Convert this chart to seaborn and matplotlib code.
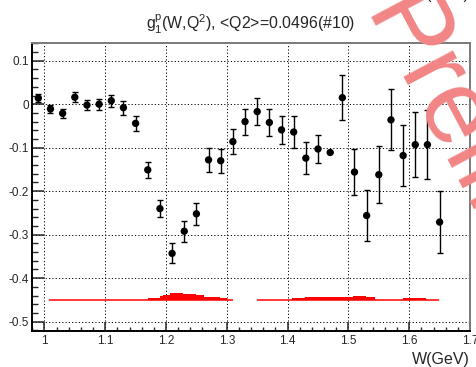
import numpy as np
import pandas as pd
import matplotlib
matplotlib.use("Agg")
import matplotlib.pyplot as plt
from matplotlib.ticker import MultipleLocator, FixedLocator
import seaborn as sns

# ---------------- data ----------------
W = [0.99, 1.01, 1.03, 1.05, 1.07, 1.09, 1.11, 1.13, 1.15, 1.17,
     1.19, 1.21, 1.23, 1.25, 1.27, 1.29, 1.31, 1.33, 1.35, 1.37,
     1.39, 1.41, 1.43, 1.45, 1.47, 1.49, 1.51, 1.53, 1.55, 1.57,
     1.59, 1.61, 1.63, 1.65]
g1 = [0.014, -0.011, -0.021, 0.016, -0.002, 0.000, 0.008, -0.008, -0.044, -0.151,
      -0.240, -0.343, -0.292, -0.252, -0.128, -0.130, -0.086, -0.040, -0.017, -0.042,
      -0.059, -0.064, -0.124, -0.103, -0.111, 0.015, -0.156, -0.256, -0.162, -0.036,
      -0.118, -0.093, -0.093, -0.271]
g1_err = [0.010, 0.010, 0.010, 0.012, 0.012, 0.013, 0.014, 0.016, 0.017, 0.019,
          0.020, 0.023, 0.024, 0.025, 0.027, 0.028, 0.029, 0.030, 0.031, 0.032,
          0.033, 0.036, 0.037, 0.033, 0.000, 0.051, 0.053, 0.059, 0.065, 0.070,
          0.070, 0.075, 0.080, 0.072]

# systematic band (drawn as a step histogram above a baseline)
sys_base = -0.45
sys1_edges = [1.008, 1.17, 1.19, 1.195, 1.206, 1.228, 1.25, 1.263, 1.288, 1.30, 1.31]
sys1_top = [-0.45, -0.446, -0.442, -0.438, -0.434, -0.437, -0.439, -0.443, -0.445, -0.45]
sys2_edges = [1.349, 1.408, 1.428, 1.507, 1.529, 1.543, 1.59, 1.628, 1.649]
sys2_top = [-0.45, -0.446, -0.443, -0.440, -0.443, -0.45, -0.445, -0.45]

title_txt = r"$g_1^p$(W,Q$^2$), <Q2>=0.0496(#10)"
xlabel_txt = "W(GeV)"
y_ticks = [0.1, 0.0, -0.1, -0.2, -0.3, -0.4, -0.5]
y_ticklabels = ["0.1", "0", "-0.1", "-0.2", "-0.3", "-0.4", "-0.5"]
x_ticks = [1.0, 1.1, 1.2, 1.3, 1.4, 1.5, 1.6, 1.7]
x_ticklabels = ["1", "1.1", "1.2", "1.3", "1.4", "1.5", "1.6", "1.7"]

df = pd.DataFrame({"W": W, "g1": g1, "err": g1_err})

# ---------------- style ----------------
sns.set_style("white")
plt.rcParams["font.family"] = ["Liberation Sans", "DejaVu Sans"]
plt.rcParams["mathtext.fontset"] = "custom"
plt.rcParams["mathtext.rm"] = "Liberation Sans"
plt.rcParams["mathtext.it"] = "Liberation Sans"
plt.rcParams["mathtext.default"] = "regular"

fig = plt.figure(figsize=(4.77, 3.67), dpi=100)
ax = fig.add_axes([32/477, 36/367, (470-32)/477, (331-43)/367])

# grid
for xv in x_ticks[:-1]:
    ax.axvline(xv, color="black", lw=0.7, ls=(0, (1.2, 2.2)), zorder=0.5)
for yv in y_ticks:
    ax.axhline(yv, color="black", lw=0.7, ls=(0, (1.2, 2.2)), zorder=0.5)

# systematic band
for edges, tops in ((sys1_edges, sys1_top), (sys2_edges, sys2_top)):
    ax.stairs(tops, edges, baseline=sys_base, fill=True, color="red", lw=0, zorder=2)
    ax.hlines(sys_base, edges[0], edges[-1], color="red", lw=1.1, zorder=2)

# error bars + points
ax.errorbar(df["W"], df["g1"], yerr=df["err"], fmt="none", ecolor="black",
            elinewidth=1.0, capsize=2.4, capthick=1.0, zorder=3)
sns.scatterplot(data=df, x="W", y="g1", ax=ax, color="black", s=28,
                edgecolor="none", linewidth=0, zorder=4, legend=False)

ax.set_xlim(0.9796, 1.70)
ax.set_ylim(-0.5214, 0.1407)
ax.set_xlabel("")
ax.set_ylabel("")

ax.xaxis.set_major_locator(FixedLocator(x_ticks))
ax.set_xticklabels(x_ticklabels)
ax.xaxis.set_minor_locator(MultipleLocator(0.02))
ax.yaxis.set_major_locator(FixedLocator(y_ticks))
ax.set_yticklabels(y_ticklabels)
ax.yaxis.set_minor_locator(MultipleLocator(0.02))

ax.tick_params(axis="x", which="major", direction="in", length=6.5, width=1.1,
               labelsize=8.5, pad=3, bottom=True, top=False)
ax.tick_params(axis="x", which="minor", direction="in", length=3, width=1.0,
               bottom=True, top=False)
ax.tick_params(axis="y", which="major", direction="in", length=8.6, width=1.1,
               labelsize=8.5, pad=2, left=True, right=False)
ax.tick_params(axis="y", which="minor", direction="in", length=4.3, width=1.0,
               left=True, right=False)

for side in ("left", "bottom"):
    ax.spines[side].set_color("black")
    ax.spines[side].set_linewidth(1.4)
for side in ("top", "right"):
    ax.spines[side].set_color("#7a7a7a")
    ax.spines[side].set_linewidth(1.4)

# title and axis label
fig.text(251/477, 1 - 30/367, title_txt, ha="center", va="baseline", fontsize=11.4)
fig.text(470/477, 3/367, xlabel_txt, ha="right", va="baseline", fontsize=11.5)
# label of the panel above, clipped at the top edge
fig.text(470/477, 1 + 1/367, xlabel_txt, ha="right", va="baseline", fontsize=11.5)

# watermark
fig.text(362/477, 1 - 16/367, "Preliminary", rotation=-62, rotation_mode="anchor",
         ha="left", va="baseline", fontsize=76, color="#f28585", zorder=10)

fig.savefig("out.png", dpi=100)
